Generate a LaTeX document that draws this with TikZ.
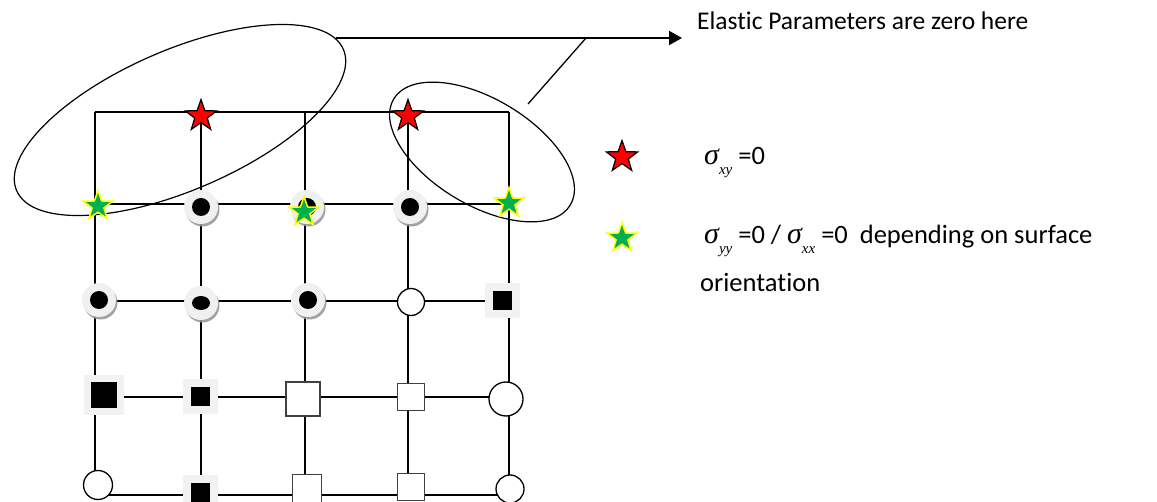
\documentclass[tikz,border=0pt]{standalone}
\usepackage{fontspec}
\setmainfont{Carlito}[Ligatures=NoCommon]
\newfontfamily\timesfont{Liberation Serif}
\usepackage{tikz}
\usetikzlibrary{arrows.meta,positioning,shapes.geometric,shadows}
\definecolor{starred}{RGB}{255,0,0}
\definecolor{stargreen}{RGB}{0,176,80}
\definecolor{staryellow}{RGB}{255,255,0}
\definecolor{ringgray}{RGB}{240,240,240}
\definecolor{boxgray}{RGB}{242,242,242}
\definecolor{edgegray}{RGB}{64,64,64}
\newcommand{\sigsub}[1]{{\fontsize{30pt}{30pt}\selectfont\timesfont\itshape σ}\raisebox{-0.35em}{\fontsize{15pt}{15pt}\selectfont\timesfont\itshape #1}}
\tikzset{
  gridline/.style ={line width=1.3pt, black},
  outline/.style  ={ellipse, draw, line width=1.2pt, inner sep=0pt},
  pointer/.style  ={-{Triangle[length=13pt, width=14pt]}, line width=2pt},
  redstar/.style  ={star, star points=5, star point ratio=2.5, draw=black, fill=starred,
                    line width=1.2pt, minimum size=33pt, inner sep=0pt},
  greenstar/.style={star, star points=5, star point ratio=2.5, draw=staryellow, fill=stargreen,
                    line width=1.5pt, minimum size=31pt, inner sep=0pt},
  ringbase/.style ={circle, fill=ringgray, minimum size=34pt, inner sep=0pt,
                    drop shadow={shadow xshift=1.5pt, shadow yshift=-2.5pt, fill=gray!80, opacity=0.9}},
  ringdot/.style  ={ringbase, path picture={\fill[black] (path picture bounding box.center) circle (9pt);}},
  ringoval/.style ={ringbase, path picture={\fill[black] (path picture bounding box.center) ellipse [x radius=9pt, y radius=7pt];}},
  blacksq/.style  ={rectangle, fill=black, draw=boxgray, line width=8pt, minimum size=#1, inner sep=0pt},
  whitesq/.style  ={rectangle, fill=white, draw=edgegray, line width=1.3pt, minimum size=#1, inner sep=0pt},
  whitecirc/.style={circle, fill=white, draw=black, line width=1.3pt, minimum size=#1, inner sep=0pt},
  keytext/.style  ={anchor=base west, inner sep=0pt, font=\fontsize{26.5pt}{32pt}\selectfont},
}
\begin{document}
\begin{tikzpicture}[x=1pt, y=-1pt]
    \useasboundingbox (0,0) rectangle (1157,502);
    % grid points
    \foreach \x [count=\c from 0] in {95,201,305,408,509}
      \foreach \y [count=\r from 0] in {112,204,301,397,495}
        \coordinate (p\c\r) at (\x,\y);
    \foreach \c in {0,...,4} \draw[gridline] (p\c0) -- (p\c4);
    \foreach \r in {0,...,4} \draw[gridline] (p0\r) -- (p4\r);
    % surface regions
    \node[outline, minimum width=356pt, minimum height=140pt, rotate=23.4] (bigring) at (180,120) {};
    \node[outline, minimum width=206pt, minimum height=106pt, rotate=-31] (smallring) at (482,152) {};
    \coordinate (arrowstart) at (336,38);
    \coordinate (arrowtip)   at (682,38);
    \coordinate (branch)     at (586,38);
    \coordinate (smalltip)   at (528,104);
    \draw[pointer] (arrowstart) -- (arrowtip);
    \draw[line width=1.3pt] (smalltip) -- (branch);
    \node[keytext, font=\fontsize{25.5pt}{30pt}\selectfont] (title) at (697,30) {Elastic Parameters are zero here};
    % row 0
    \node[redstar] (s10) at (201,116) {};
    \node[redstar] (s30) at (408,116) {};
    % row 1
    \node[greenstar] (s01) at (98,206) {};
    \node[ringdot]   (s11) at (201,207) {};
    \node[ringdot]   (s21) at (307,207) {};
    \node[greenstar] (g21) at (304,212) {};
    \node[ringdot]   (s31) at (410,207) {};
    \node[greenstar] (s41) at (509,203) {};
    % row 2
    \node[ringdot]   (s02) at (99,300) {};
    \node[ringoval]  (s12) at (201,303) {};
    \node[ringdot]   (s22) at (308,300) {};
    \node[whitecirc=24pt, minimum width=27pt] (s32) at (411,302) {};
    \node[blacksq=27pt] (s42) at (502,301) {};
    % row 3
    \node[blacksq=33pt, line width=7.5pt] (s03) at (104,395) {};
    \node[blacksq=27pt] (s13) at (200,397) {};
    \node[whitesq=34pt] (s23) at (303,399) {};
    \node[whitesq=27pt] (s33) at (411,397) {};
    \node[whitecirc=34pt] (s43) at (506,399) {};
    % row 4
    \node[whitecirc=29pt] (s04) at (98,485) {};
    \node[blacksq=27pt] (s14) at (200,492) {};
    \node[whitesq=29pt] (s24) at (307,489) {};
    \node[whitesq=27pt] (s34) at (411,487) {};
    \node[whitecirc=28pt] (s44) at (510,489) {};
    % legend
    \node[redstar] (keyred) at (622,157) {};
    \node[keytext] (keyxy) at (704,165) {\sigsub{xy} =0};
    \node[greenstar] (keygreen) at (622,238) {};
    \node[keytext] (keyyy) at (704,244) {\sigsub{yy} =0 / \sigsub{xx} =0\ \ depending on surface};
    \node[keytext] (keyorient) at (700,292) {orientation};
\end{tikzpicture}
\end{document}
